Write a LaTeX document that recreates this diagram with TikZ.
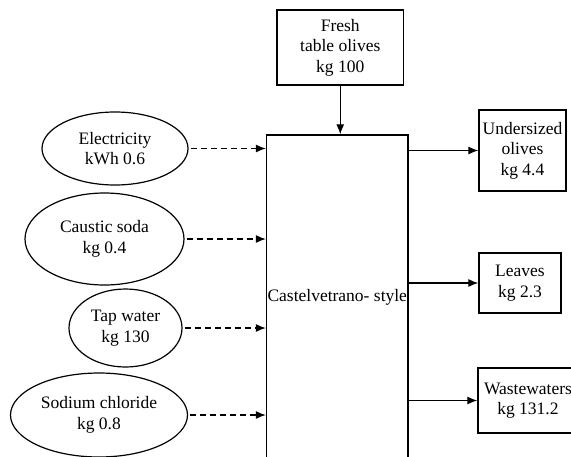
\documentclass[tikz,border=0pt]{standalone}
\usepackage{fontspec}
\setmainfont{Liberation Serif}
\newfontfamily\tnr{Liberation Serif}
\usetikzlibrary{arrows.meta,shapes.geometric}
\begin{document}
\begin{tikzpicture}[x=1pt,y=-1pt,
  every node/.style={font=\tnr\fontsize{17.5}{20.5}\selectfont, align=center, inner sep=0pt},
  box/.style={draw, line width=1.3pt, rectangle},
  oval/.style={draw, line width=1.2pt, ellipse},
  flow/.style={line width=1.2pt, -{Latex[length=10pt,width=8pt]}},
  dflow/.style={flow, dash pattern=on 6pt off 4pt}]
\useasboundingbox (0,0) rectangle (571,456);
\clip (0,0) rectangle (571,456);
\node[box, minimum width=126.5pt, minimum height=75pt] (fresh) at (340.25,47.5) {Fresh\\table olives\\kg 100};
\node[box, minimum width=141.5pt, minimum height=325pt] (main) at (337.25,297.5) {Castelvetrano- style};
\node[oval, minimum width=146pt, minimum height=73pt] (elec) at (115,148.5) {Electricity\\kWh 0.6};
\node[oval, minimum width=159pt, minimum height=92pt] (soda) at (104.5,239) {Caustic soda\\kg 0.4};
\node[oval, minimum width=113pt, minimum height=78pt] (tap) at (125.5,328) {Tap water\\kg 130};
\node[oval, minimum width=177pt, minimum height=84pt] (salt) at (99,415) {Sodium chloride\\kg 0.8};
\node[box, minimum width=87pt, minimum height=81pt] (und) at (522.5,150.5) {Undersized\\olives\\kg 4.4};
\node[box, minimum width=82pt, minimum height=60pt] (leaves) at (520,283) {Leaves\\kg 2.3};
\node[box, minimum width=100pt, minimum height=65pt] (waste) at (528,400.5) {Wastewaters\\kg 131.2};
\draw[flow] (fresh.south) -- (fresh.south |- main.north);
\draw[dflow, shorten <=2pt] (elec.east) -- (elec.east -| main.west);
\draw[dflow, shorten <=2pt] (soda.east) -- (soda.east -| main.west);
\draw[dflow, shorten <=2pt] (tap.east) -- (tap.east -| main.west);
\draw[dflow, shorten <=2pt] (salt.east) -- (salt.east -| main.west);
\draw[flow] (und.west -| main.east) -- (und.west);
\draw[flow] (leaves.west -| main.east) -- (leaves.west);
\draw[flow] (waste.west -| main.east) -- (waste.west);
\end{tikzpicture}
\end{document}
